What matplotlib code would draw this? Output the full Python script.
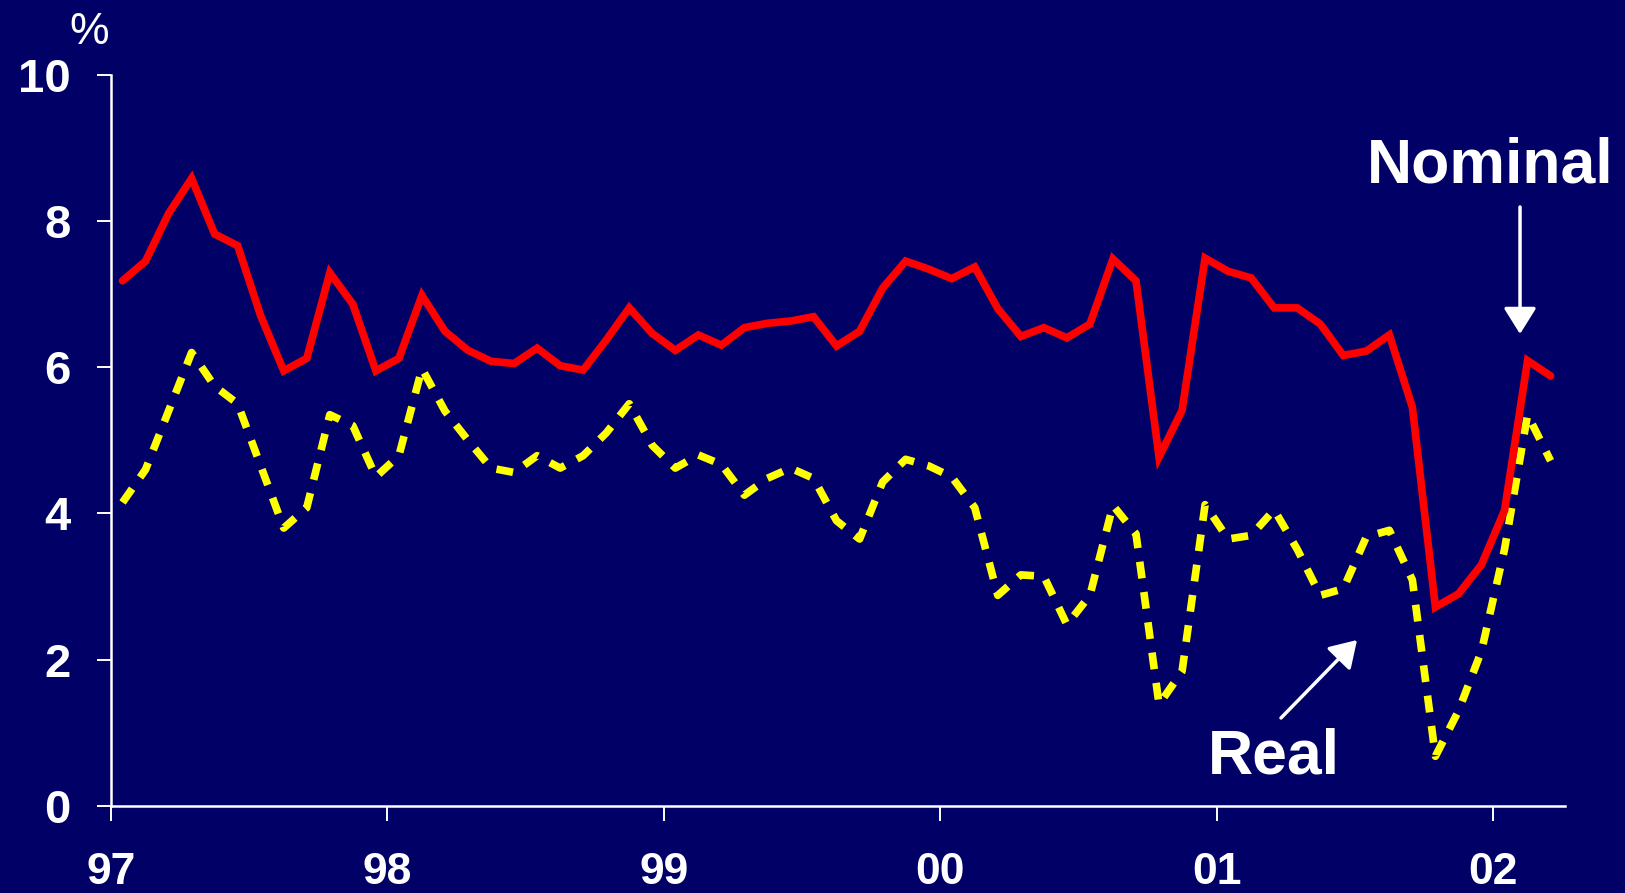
"""
Nominal and real rates, monthly, Jan 1997 - Mar 2002
"""
import matplotlib.pyplot as plt
import numpy as np

plt.rcParams['font.family'] = ['Liberation Sans', 'DejaVu Sans']

# monthly values (%), first point is January 1997
nominal = [7.18, 7.45, 8.10, 8.58, 7.82, 7.66, 6.70, 5.95, 6.12, 7.29, 6.86, 5.95,
           6.12, 6.98, 6.49, 6.23, 6.08, 6.05, 6.26, 6.02, 5.96, 6.37, 6.81, 6.46,
           6.23, 6.44, 6.30, 6.54, 6.60, 6.63, 6.69, 6.29, 6.49, 7.08, 7.45, 7.34,
           7.21, 7.37, 6.80, 6.42, 6.54, 6.40, 6.59, 7.48, 7.18, 4.77, 5.41, 7.49,
           7.31, 7.22, 6.81, 6.81, 6.59, 6.16, 6.22, 6.44, 5.45, 2.72, 2.90, 3.30,
           4.04, 6.09, 5.88]
real = [4.15, 4.60, 5.40, 6.20, 5.74, 5.50, 4.65, 3.80, 4.08, 5.35, 5.20, 4.50,
        4.79, 5.98, 5.40, 5.00, 4.62, 4.56, 4.79, 4.62, 4.79, 5.10, 5.50, 4.93,
        4.62, 4.80, 4.67, 4.25, 4.48, 4.62, 4.48, 3.90, 3.65, 4.43, 4.74, 4.65,
        4.50, 4.08, 2.88, 3.16, 3.14, 2.48, 2.88, 4.11, 3.72, 1.39, 1.84, 4.12,
        3.65, 3.70, 4.05, 3.51, 2.88, 2.97, 3.68, 3.77, 3.09, 0.68, 1.30, 2.12,
        3.51, 5.35, 4.72]
years = [1997, 1998, 1999, 2000, 2001, 2002]
year_labels = ['97', '98', '99', '00', '01', '02']

t = 1997 + (np.arange(len(nominal)) + 0.5) / 12.

bg = '#000066'
fig = plt.figure(figsize=(16.25, 8.93), dpi=100, facecolor=bg)
ax = fig.add_axes([0.0683, 0.0974, 0.8947, 0.8191])
ax.set_facecolor(bg)

ax.plot(t, real, color='#ffff00', lw=5.5, dashes=(2.2, 1.8), zorder=2)
ax.plot(t, nominal, color='#ff0000', lw=5.5, solid_joinstyle='miter',
        solid_capstyle='round', zorder=3)

ax.set_xlim(1997, 2002.26)
ax.set_ylim(0, 10)
ax.set_xticks(years)
ax.set_xticklabels(year_labels)
ax.set_yticks(np.arange(0, 11, 2))

for s in ['top', 'right']:
    ax.spines[s].set_visible(False)
for s in ['left', 'bottom']:
    ax.spines[s].set_color('white')
    ax.spines[s].set_linewidth(1.8)
ax.tick_params(axis='x', colors='white', length=11, width=1.4, pad=22,
               labelsize=32)
ax.tick_params(axis='y', colors='white', length=10, width=1.4, pad=19,
               labelsize=34)
for lab in ax.get_xticklabels() + ax.get_yticklabels():
    lab.set_fontweight('bold')

fig.text(0.0548, 0.951, '%', color='white', fontsize=32, ha='center',
         va='baseline')
fig.text(0.841, 0.796, 'Nominal', color='white', fontsize=45,
         fontweight='bold', ha='left', va='baseline')
fig.text(0.743, 0.134, 'Real', color='white', fontsize=45,
         fontweight='bold', ha='left', va='baseline')

arrow = dict(arrowstyle='-|>,head_length=0.8,head_width=0.5', color='white',
             lw=2.5, mutation_scale=20, shrinkA=0, shrinkB=0)
ax.annotate('', xy=(0.9354, 0.626), xytext=(0.9354, 0.7682),
            xycoords='figure fraction', arrowprops=arrow)
ax.annotate('', xy=(0.8351, 0.2833), xytext=(0.7883, 0.196),
            xycoords='figure fraction', arrowprops=arrow)

fig.savefig('out.png', dpi=100, facecolor=bg)
